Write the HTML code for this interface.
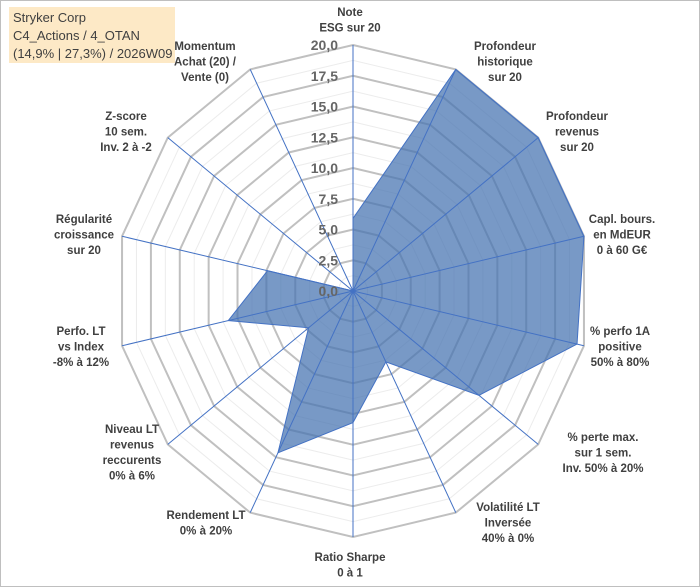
<!DOCTYPE html>
<html><head><meta charset="utf-8"><style>
body{margin:0;background:#fff;}
#wrap{position:relative;width:700px;height:587px;overflow:hidden;font-family:"Liberation Sans",sans-serif;}
#frame{position:absolute;left:0;top:0;width:698px;height:585px;border:1px solid #bfbfbf;}
#title{position:absolute;left:9px;top:7px;width:166px;height:56px;background:#fde9c6;font-size:13px;line-height:18px;color:#404040;padding:2px 0 0 4px;box-sizing:border-box;}
</style></head><body>
<div id="wrap">
<div id="frame"></div>
<svg id="svg" width="700" height="587" style="position:absolute;left:0;top:0"></svg>
<div id="title">Stryker Corp<br>C4_Actions / 4_OTAN<br>(14,9% | 27,3%) / 2026W09</div>
</div>
<script>
const categories=[["Note","ESG sur 20"],["Profondeur","historique","sur 20"],["Profondeur","revenus","sur 20"],["Capl. bours.","en MdEUR","0 à 60 G€"],["% perfo 1A","positive","50% à 80%"],["% perte max.","sur 1 sem.","Inv. 50% à 20%"],["Volatilité LT","Inversée","40% à 0%"],["Ratio Sharpe","0 à 1"],["Rendement LT","0% à 20%"],["Niveau LT","revenus","reccurents","0% à 6%"],["Perfo. LT","vs Index","-8% à 12%"],["Régularité","croissance","sur 20"],["Z-score","10 sem.","Inv. 2 à -2"],["Momentum","Achat (20) /","Vente (0)"]];
const values=[5.9,20,20,20,19.4,13.6,6.4,10.7,14.6,4.8,10.8,7.4,0,0];
const tickLabels=["0,0","2,5","5,0","7,5","10,0","12,5","15,0","17,5","20,0"];
const maxVal=20;
const labelAnchors=[[350,12],[505,46],[577,116],[622,219],[620,331],[603,437],[508,507],[350,557],[206,515],[132,429],[81,331],[84,219],[126,116],[205,46]];
const NS="http://www.w3.org/2000/svg";
const svg=document.getElementById('svg');
const cx=353,cy=291,R=246,sx=0.963,n=categories.length;
function ang(i){return i*2*Math.PI/n;}
function pt(i,v){const r=v/maxVal*R;return [cx+sx*r*Math.sin(ang(i)),cy-r*Math.cos(ang(i))];}
function mk(t,a){const e=document.createElementNS(NS,t);for(const k in a)e.setAttribute(k,a[k]);svg.appendChild(e);return e;}
for(let k=1;k<=16;k++){const v=k*1.25;const pts=[];for(let i=0;i<n;i++)pts.push(pt(i,v).join(','));
const e=mk('polygon',{points:pts.join(' '),fill:'none',stroke:k%2?'#ececec':'#c0c0c0','stroke-width':k%2?1:2});

}
const sp=values.map((v,i)=>pt(i,v).join(',')).join(' ');
const poly=mk('polygon',{points:sp,fill:'rgba(68,114,176,0.72)',stroke:'#4472c4','stroke-width':1});


for(let i=0;i<n;i++){const p=pt(i,maxVal);const l=mk('line',{x1:cx,y1:cy,x2:p[0],y2:p[1],stroke:'#4472c4','stroke-width':1});

}
tickLabels.forEach((t,k)=>{const y=cy-(k*2.5)/maxVal*R;const e=mk('text',{x:338,y:y+5,'text-anchor':'end','font-size':14,'font-weight':'bold',fill:'#666'});e.textContent=t;

});
categories.forEach((lines,i)=>{const [x,y]=labelAnchors[i];const e=mk('text',{x:x,y:y+4,'text-anchor':'middle','font-size':11.5,'font-weight':'bold',fill:'#404040'});


lines.forEach((s,j)=>{const ts=document.createElementNS(NS,'tspan');ts.setAttribute('x',x);ts.setAttribute('dy',j?15.5:0);ts.textContent=s;e.appendChild(ts);});});
</script>
</body></html>
